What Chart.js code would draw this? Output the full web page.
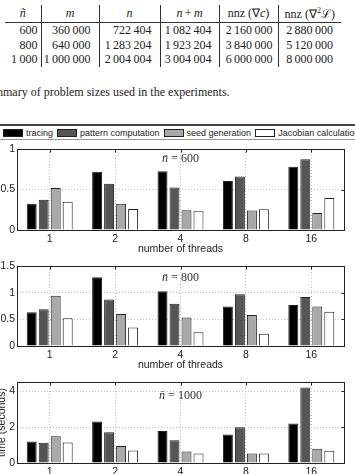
<!DOCTYPE html>
<html>
<head>
<meta charset="utf-8">
<script src="https://cdn.jsdelivr.net/npm/chart.js@4.4.0/dist/chart.umd.min.js"></script>
<style>
body{margin:0;width:355px;height:474px;overflow:hidden;background:#fff;position:relative;font-family:'Liberation Serif','Times New Roman',serif;color:#222;}
#tabla{position:absolute;left:5px;top:5px;border-collapse:collapse;table-layout:fixed;font-size:12px;}
#tabla th{height:17px;font-weight:normal;text-align:center;padding:0;border-bottom:1px solid #333;}
#tabla td{height:14.5px;line-height:14.5px;padding:0;text-align:right;white-space:nowrap;}
#tabla th+th,#tabla td+td{border-left:1px solid #333;}
#caption{position:absolute;left:-19px;top:85px;font-size:12px;line-height:14px;white-space:nowrap;}
#leyenda{position:absolute;left:-5px;top:124px;width:370px;height:13px;border-top:2px solid #444;border-bottom:1px solid #999;border-left:1px solid #999;display:flex;align-items:center;font-family:'Liberation Sans',Arial,sans-serif;font-size:9px;white-space:nowrap;overflow:hidden;}
#leyenda .caja{width:18px;height:6px;border:1px solid #222;margin-right:3px;flex:none;}
#leyenda .item{display:flex;align-items:center;margin-right:4px;}
.graf{position:absolute;left:-6px;}
</style>
</head>
<body>
<table id="tabla"></table>
<div id="caption">Summary of problem sizes used in the experiments.</div>
<div id="leyenda"></div>
<div class="graf" style="top:140px"><canvas id="g600" width="361" height="114"></canvas></div>
<div class="graf" style="top:257px"><canvas id="g800" width="361" height="113"></canvas></div>
<div class="graf" style="top:373px"><canvas id="g1000" width="361" height="114"></canvas></div>
<script>
// tabla de tamaños
const nbar = [600, 800, 1000];
const mVal = [360000, 640000, 1000000];
const nVal = [722404, 1283204, 2004004];
const nmVal = [1082404, 1923204, 3004004];
const nnzGrad = [2160000, 3840000, 6000000];
const nnzHess = [2880000, 5120000, 8000000];

// datos de las graficas
const hilos = ['1', '2', '4', '8', '16'];
const series = ['tracing', 'pattern computation', 'seed generation', 'Jacobian calculation'];
const colores = ['#000000', '#555555', '#a9a9a9', '#ffffff'];

const tracing600 = [0.325, 0.72, 0.725, 0.605, 0.78];
const pattern600 = [0.375, 0.57, 0.525, 0.66, 0.875];
const seed600 = [0.52, 0.325, 0.245, 0.24, 0.21];
const jacobian600 = [0.35, 0.26, 0.23, 0.255, 0.395];

const tracing800 = [0.635, 1.29, 1.025, 0.74, 0.77];
const pattern800 = [0.69, 0.87, 0.79, 0.97, 0.92];
const seed800 = [0.94, 0.6, 0.535, 0.58, 0.74];
const jacobian800 = [0.52, 0.345, 0.26, 0.23, 0.64];

const tracing1000 = [1.2, 2.31, 1.78, 1.58, 2.2];
const pattern1000 = [1.13, 1.71, 1.26, 1.99, 4.19];
const seed1000 = [1.48, 0.94, 0.64, 0.53, 0.79];
const jacobian1000 = [1.14, 0.69, 0.53, 0.53, 0.68];

function fmt(v){ // separador de miles con espacio fino
    return String(v).replace(/\B(?=(\d{3})+(?!\d))/g, '\u2009');
}

// armar la tabla
const anchos = [36, 58, 61, 59, 59, 63];
const pads = [3, 8, 8, 7, 5, 8];
const cabecera = ['<i>ñ</i>', '<i>m</i>', '<i>n</i>', '<i>n</i>\u2009+\u2009<i>m</i>', 'nnz (∇<i>c</i>)', 'nnz (∇<sup style="font-size:8px;line-height:0">2</sup>ℒ)'];
let html = '<colgroup>' + anchos.map(w => '<col style="width:' + w + 'px">').join('') + '</colgroup>';
html += '<tr>' + cabecera.map(h => '<th>' + h + '</th>').join('') + '</tr>';
for (let i = 0; i < nbar.length; i++) {
    const fila = [nbar[i], mVal[i], nVal[i], nmVal[i], nnzGrad[i], nnzHess[i]];
    html += '<tr>' + fila.map((v, j) => '<td style="padding-right:' + pads[j] + 'px">' + fmt(v) + '</td>').join('') + '</tr>';
}
document.getElementById('tabla').innerHTML = html;

// leyenda
const leyenda = document.getElementById('leyenda');
leyenda.innerHTML = '<span style="width:7px;flex:none"></span>' + series.map((s, i) =>
    '<span class="item"><span class="caja" style="background:' + colores[i] + '"></span>' + s + '</span>').join('');

const fuente = {family: "'Liberation Sans', Arial, sans-serif", size: 10.5, lineHeight: 1};

// marco de la grafica, marcas arriba/derecha y etiqueta n
const marco = {
    id: 'marco',
    afterDatasetsDraw(chart, args, opts) {
        const {ctx, chartArea: a, scales} = chart;
        ctx.save();
        ctx.strokeStyle = '#222';
        ctx.lineWidth = 1;
        const l = Math.round(a.left) + 0.5, t = Math.round(a.top) + 0.5;
        const r = Math.round(a.right) + 0.5, b = Math.round(a.bottom) + 0.5;
        ctx.strokeRect(l, t, r - l, b - t);
        ctx.beginPath();
        scales.x.ticks.forEach((tk, i) => {
            const px = Math.round(scales.x.getPixelForTick(i)) + 0.5;
            ctx.moveTo(px, t); ctx.lineTo(px, t + 3);
        });
        scales.y.ticks.forEach((tk, i) => {
            const py = Math.round(scales.y.getPixelForTick(i)) + 0.5;
            ctx.moveTo(r, py); ctx.lineTo(r - 3, py);
        });
        ctx.stroke();

        const cx = (a.left + a.right) / 2, cy = a.top + opts.dy;
        ctx.fillStyle = '#333';
        ctx.textBaseline = 'middle';
        ctx.textAlign = 'left';
        ctx.font = "italic 12px 'Liberation Serif'";
        const p1 = 'n\u0304';
        const w1 = ctx.measureText(p1).width;
        ctx.font = "12px 'Liberation Serif'";
        const p2 = ' = ' + opts.texto;
        const w2 = ctx.measureText(p2).width;
        const x0 = cx - (w1 + w2) / 2;
        ctx.font = "italic 12px 'Liberation Serif'";
        ctx.fillText(p1, x0, cy);
        ctx.font = "12px 'Liberation Serif'";
        ctx.fillText(p2, x0 + w1, cy);
        ctx.restore();
    }
};

function grafica(id, datos, maximo, paso, texto, dy, conTituloY){
    const ctx = document.getElementById(id).getContext('2d');
    const datasets = series.map(function(s, i){
        return {
            label: s,
            data: datos[i],
            backgroundColor: colores[i],
            borderColor: '#222',
            borderWidth: 1,
            categoryPercentage: 0.734,
            barPercentage: 0.83
        };
    });
    new Chart(ctx, {
        type: 'bar',
        data: {labels: hilos, datasets: datasets},
        options: {
            responsive: false,
            animation: false,
            devicePixelRatio: 1,
            layout: {padding: {top: 9, right: 11, left: 0, bottom: 0}},
            plugins: {legend: {display: false}, tooltip: {enabled: false}, marco: {texto: texto, dy: dy}},
            scales: {
                x: {
                    grid: {offset: false, color: '#c4c4c4', drawTicks: false},
                    border: {display: false, dash: [1, 2]},
                    ticks: {padding: 4, color: '#222', font: fuente},
                    title: {display: true, text: 'number of threads', color: '#222', font: fuente, padding: 0},
                    afterFit: function(s){ s.height = 24; }
                },
                y: {
                    min: 0,
                    max: maximo,
                    grid: {color: '#c4c4c4', drawTicks: false},
                    border: {display: false, dash: [1, 2]},
                    ticks: {stepSize: paso, includeBounds: false, padding: 2, color: '#222', font: fuente,
                        callback: function(v){ return String(v); }},
                    title: {display: conTituloY, text: 'time (seconds)', color: '#222', font: fuente, padding: {top: 3, bottom: 0}},
                    afterFit: function(s){ s.width = 23; }
                }
            }
        },
        plugins: [marco]
    });
}

grafica('g600', [tracing600, pattern600, seed600, jacobian600], 1, 0.5, '600', 10, false);
grafica('g800', [tracing800, pattern800, seed800, jacobian800], 1.5, 0.5, '800', 12, false);
grafica('g1000', [tracing1000, pattern1000, seed1000, jacobian1000], 4.5, 2, '1000', 13.5, true);
</script>
</body>
</html>
